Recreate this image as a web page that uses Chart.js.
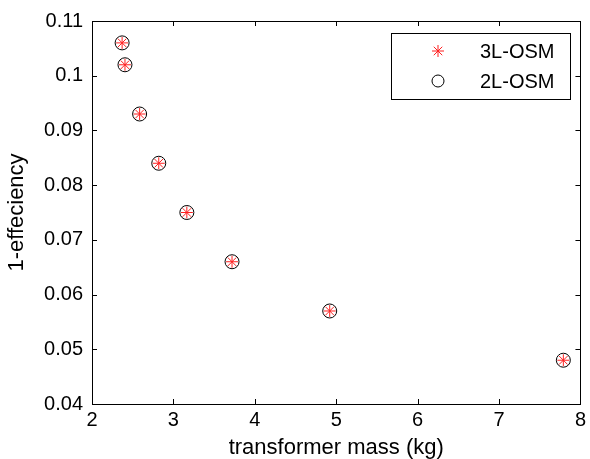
<!DOCTYPE html>
<html>
<head>
<meta charset="utf-8">
<script src="https://cdn.jsdelivr.net/npm/chart.js@4.4.0/dist/chart.umd.min.js"></script>
<style>
  html, body { margin: 0; padding: 0; background: #fff; }
  canvas { display: block; }
</style>
</head>
<body>
<canvas id="c" width="590" height="459"></canvas>
<script>
// ---- data ----
const massKg3L = [2.37, 2.405, 2.585, 2.82, 3.165, 3.72, 4.92, 7.79];
const loss3L   = [0.106, 0.102, 0.093, 0.084, 0.075, 0.066, 0.057, 0.048];
const massKg2L = [2.37, 2.405, 2.585, 2.82, 3.165, 3.72, 4.92, 7.79];
const loss2L   = [0.106, 0.102, 0.093, 0.084, 0.075, 0.066, 0.057, 0.048];
const seriesNames = ['3L-OSM', '2L-OSM'];
const xTickValues = [2, 3, 4, 5, 6, 7, 8];
const yTickValues = [0.04, 0.05, 0.06, 0.07, 0.08, 0.09, 0.1, 0.11];
const xTitle = 'transformer mass (kg)';
const yTitle = '1-effeciency';

const FONT = '"Liberation Sans", Arial, Helvetica, sans-serif';
const toPts = (xs, ys) => xs.map((x, i) => ({ x: x, y: ys[i] }));

// inward ticks on all four sides + box
const boxTicks = {
  id: 'boxTicks',
  afterDraw(chart) {
    const { ctx, chartArea: a, scales } = chart;
    const L = 5;
    ctx.save();
    ctx.strokeStyle = '#000';
    ctx.lineWidth = 1;
    ctx.beginPath();
    xTickValues.forEach(v => {
      const px = Math.round(scales.x.getPixelForValue(v)) + 0.5;
      ctx.moveTo(px, a.bottom); ctx.lineTo(px, a.bottom - L);
      ctx.moveTo(px, a.top); ctx.lineTo(px, a.top + L);
    });
    yTickValues.forEach(v => {
      const py = Math.round(scales.y.getPixelForValue(v)) + 0.5;
      ctx.moveTo(a.left, py); ctx.lineTo(a.left + L, py);
      ctx.moveTo(a.right, py); ctx.lineTo(a.right - L, py);
    });
    ctx.stroke();
    ctx.strokeRect(Math.round(a.left) + 0.5, Math.round(a.top) + 0.5,
                   Math.round(a.right - a.left), Math.round(a.bottom - a.top));
    ctx.restore();
  }
};

// legend box inside plot (top-right)
const boxLegend = {
  id: 'boxLegend',
  afterDraw(chart) {
    const { ctx, chartArea: a } = chart;
    const w = 179, h = 66;
    const left = Math.round(a.right - 10 - w), top = Math.round(a.top + 12);
    ctx.save();
    ctx.fillStyle = '#fff';
    ctx.fillRect(left, top, w, h);
    ctx.strokeStyle = '#000';
    ctx.lineWidth = 1;
    ctx.strokeRect(left + 0.5, top + 0.5, w, h);
    chart.data.datasets.forEach((ds, i) => {
      const cy = top + 18 + i * 30;
      ctx.save();
      ctx.strokeStyle = ds.borderColor;
      ctx.fillStyle = ds.backgroundColor;
      ctx.lineWidth = ds.borderWidth;
      Chart.helpers.drawPoint(ctx, {
        pointStyle: ds.pointStyle,
        radius: 6,
        borderWidth: ds.borderWidth,
        rotation: 0
      }, left + 47, cy);
      ctx.restore();
      ctx.fillStyle = '#000';
      ctx.font = '20px ' + FONT;
      ctx.textBaseline = 'middle';
      ctx.textAlign = 'left';
      ctx.fillText(ds.label, left + 89, cy + 1);
    });
    ctx.restore();
  }
};

new Chart(document.getElementById('c'), {
  type: 'scatter',
  data: {
    datasets: [
      {
        label: seriesNames[0],
        data: toPts(massKg3L, loss3L),
        pointStyle: 'star',
        pointRadius: 6,
        pointHoverRadius: 6,
        borderColor: '#ff2020',
        backgroundColor: '#ff2020',
        borderWidth: 1
      },
      {
        label: seriesNames[1],
        data: toPts(massKg2L, loss2L),
        pointStyle: 'circle',
        pointRadius: 7,
        pointHoverRadius: 7,
        borderColor: '#000',
        backgroundColor: 'rgba(0,0,0,0)',
        borderWidth: 1
      }
    ]
  },
  options: {
    responsive: false,
    animation: false,
    events: [],
    layout: { padding: { left: 0, right: 6, top: 17, bottom: 0 } },
    plugins: {
      legend: { display: false },
      tooltip: { enabled: false }
    },
    scales: {
      x: {
        type: 'linear',
        min: 2, max: 8,
        afterFit(s) { s.height = 55; },
        grid: { display: false, drawTicks: false },
        border: { display: false },
        ticks: {
          stepSize: 1, padding: 4, color: '#000',
          font: { family: FONT, size: 20 },
          maxRotation: 0
        },
        title: {
          display: true, text: xTitle, color: '#000',
          font: { family: FONT, size: 22, lineHeight: 1 },
          padding: { top: 0, bottom: 0 }
        }
      },
      y: {
        type: 'linear',
        min: 0.04, max: 0.11,
        afterFit(s) { s.width = 92; },
        grid: { display: false, drawTicks: false },
        border: { display: false },
        ticks: {
          stepSize: 0.01, padding: 9, color: '#000',
          font: { family: FONT, size: 20 },
          callback: v => String(Number(v.toFixed(2)))
        },
        title: {
          display: true, text: yTitle, color: '#000',
          font: { family: FONT, size: 22, lineHeight: 1 },
          padding: { top: 6, bottom: 0 }
        }
      }
    }
  },
  plugins: [boxTicks, boxLegend]
});
</script>
</body>
</html>
